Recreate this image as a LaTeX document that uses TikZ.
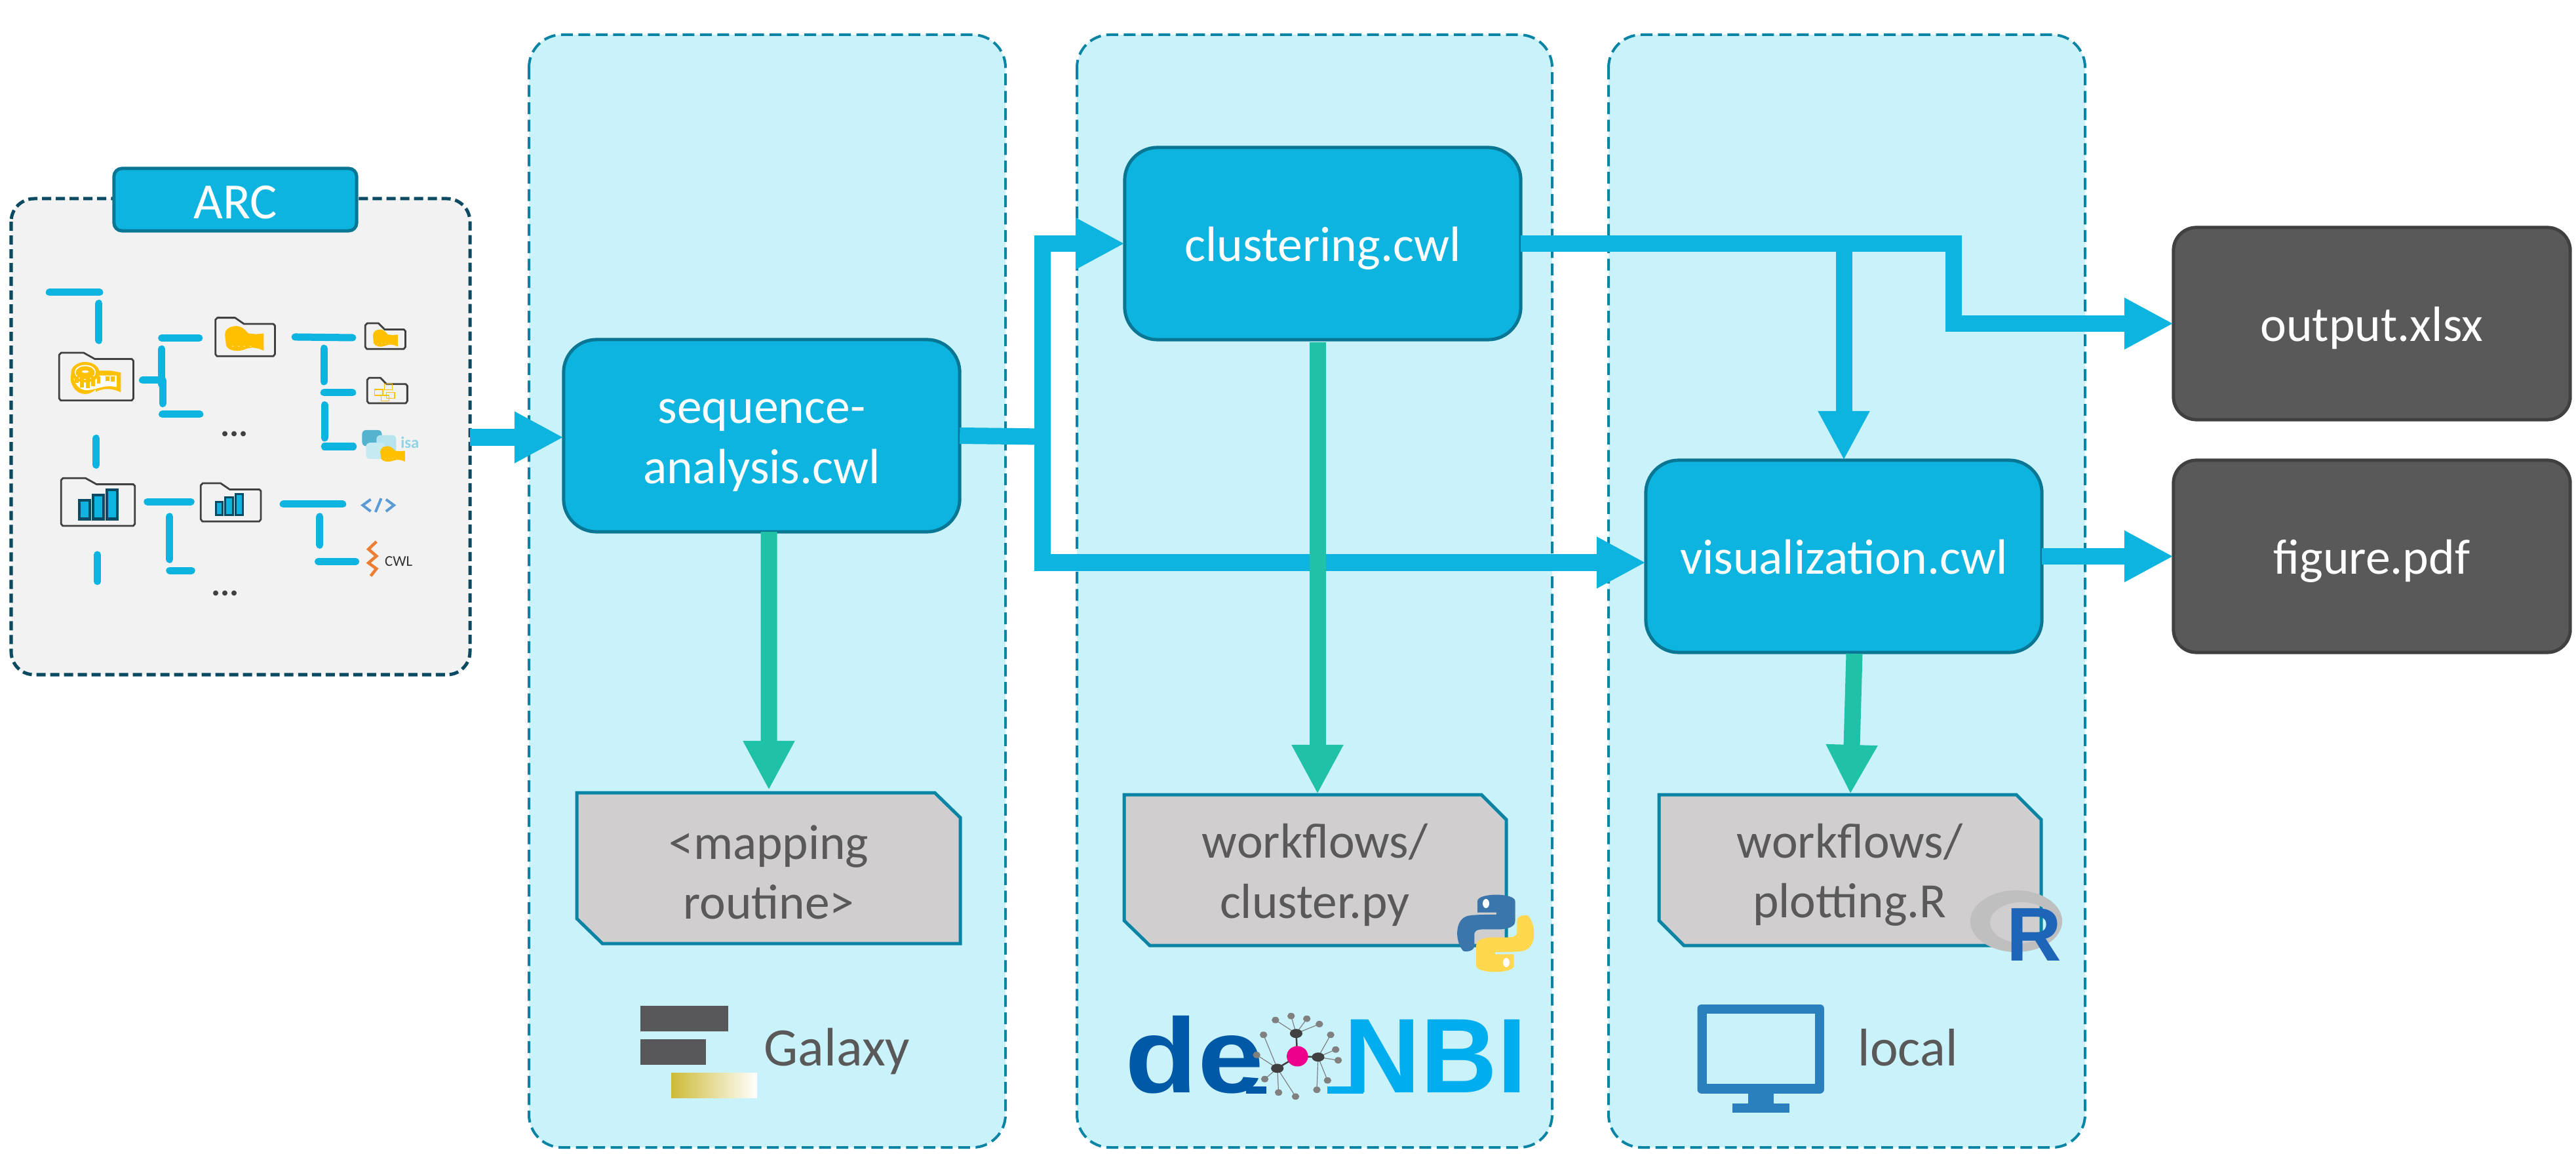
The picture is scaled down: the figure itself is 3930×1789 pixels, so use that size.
\documentclass[tikz,border=0pt]{standalone}
\usepackage{fontspec}
\setmainfont{Carlito}
\newfontfamily\logofont{Liberation Sans}
\usetikzlibrary{arrows.meta,shapes.misc}
\definecolor{panelfill}{HTML}{CAF2FB}
\definecolor{paneledge}{HTML}{0A84A5}
\definecolor{flowblue}{HTML}{0DB4E0}
\definecolor{greenflow}{HTML}{1FC2A7}
\definecolor{darkedge}{HTML}{0B4A60}
\definecolor{docfill}{HTML}{D0CECE}
\definecolor{txtgrey}{HTML}{595959}
\definecolor{tape}{HTML}{FFC000}
\definecolor{folderline}{HTML}{404040}
\definecolor{monitor}{HTML}{2A7FBF}
\definecolor{nbiblue}{HTML}{00AEEF}
\definecolor{deblue}{HTML}{0059A6}
\newcommand{\pxfont}[1]{\fontsize{#1}{26}\selectfont}
\tikzset{
 panel/.style={draw=paneledge,fill=panelfill,line width=0.04cm,rounded corners=0.5cm,dash pattern=on 0.18cm off 0.085cm},
 toolbox/.style={draw=paneledge!90!black,fill=flowblue,line width=0.05cm,rounded corners=0.5cm,text=white,minimum width=6.04cm,minimum height=2.93cm,align=center,font=\pxfont{21.5},inner sep=0pt,outer sep=0pt},
 oneline/.style={text height=0.75cm,text depth=0.22cm},
 outbox/.style={draw=black!75,fill=txtgrey,line width=0.05cm,rounded corners=0.35cm,text=white,minimum width=6.05cm,minimum height=2.93cm,align=center,font=\pxfont{21.5},inner sep=0pt,outer sep=0pt,oneline},
 docbox/.style={draw=paneledge,fill=docfill,line width=0.05cm},
 doctext/.style={text=txtgrey,align=center,font=\pxfont{21.4},inner sep=0pt},
 flow/.style={draw=flowblue,line width=0.25cm},
 flowarrow/.style={flow,-{Triangle[length=0.75cm,width=0.735cm]}},
 mapto/.style={draw=greenflow,line width=0.25cm,-{Triangle[length=0.75cm,width=0.735cm]}},
 treebar/.style={draw=flowblue,line width=0.11cm,line cap=round},
 folderpath/.style={draw=folderline,line width=0.028cm,line join=round},
 logotext/.style={text=txtgrey,inner sep=0pt,anchor=base west},
 logofontstyle/.style={font=\logofont\bfseries\fontsize{46}{50}\selectfont,inner sep=0pt,anchor=base west},
}
\newcommand{\folder}[4]{% x0 y0 x1 y1 in zoom coords
 \draw[folderpath] (#1,#2+8) -- (#1,#4-6) -- (#1+5,#4) -- (#3-5,#4) -- (#3,#4-6) -- (#3,#2+25) -- (#3-5,#2+20) -- ({#1+(#3-#1)*0.48},#2+20) -- ({#1+(#3-#1)*0.33},#2+2) -- (#1+6,#2+2) -- cycle;}
\newcommand{\tapefull}[4]{%
 \begin{scope}[shift={(#1,#2)},x=#3*0.004847cm,y=-#4*0.00523cm]
  \fill[tape] (.29,.5) ellipse (.29 and .5);
  \fill[tape] (.5,.27) -- (.8,.27) -- (1,.33) -- (1,.95) .. controls (.8,.8) and (.65,.82) .. (.5,.93) -- cycle;
  \fill[white] (.06,.5) .. controls (.1,.75) and (.2,.9) .. (.35,.88) .. controls (.55,.85) and (.7,.68) .. (.95,.8) -- (.95,.42) -- (.58,.42) .. controls (.5,.65) and (.15,.65) .. (.06,.5) -- cycle;
  \fill[tape] (.29,.32) ellipse (.28 and .32);
  \fill[white] (.29,.32) ellipse (.21 and .23);
  \fill[tape] (.29,.33) ellipse (.19 and .2);
  \fill[white] (.29,.3) ellipse (.07 and .04);
  \foreach \a/\b in {.08/.66,.19/.8,.3/.82,.41/.75,.52/.68,.7/.6,.8/.62}{\fill[tape] (\a,.45) rectangle (\a+.075,\b);}
  \fill[tape] (.92,.35) rectangle (.96,.8);
 \end{scope}}
\newcommand{\tapesolid}[4]{%
 \begin{scope}[shift={(#1,#2)},x=#3*0.004847cm,y=-#4*0.00523cm]
  \fill[tape] (0,.35) .. controls (0,.1) and (.15,0) .. (.3,0) .. controls (.42,0) and (.52,.15) .. (.6,.3) -- (.8,.33) -- (1,.3) -- (1,1) .. controls (.8,.85) and (.65,.85) .. (.5,.95) .. controls (.35,1.05) and (.1,1.02) .. (.03,.8) -- cycle;
  \foreach \a in {.2,.36,.5,.66}{\fill[white] (\a,.82) circle (.018);}
 \end{scope}}
\newcommand{\pysnake}[1]{%
 \fill[#1] (-29,-70) -- (-29,-120) .. controls (-29,-152) and (31,-152) .. (31,-120) -- (31,-45) .. controls (31,-25) and (20,-17) .. (8,-15) -- (-20,-15) .. controls (-32,-15) and (-34,-5) .. (-34,5) -- (-34,50) .. controls (-36,68) and (-48,70) .. (-52,65) .. controls (-65,30) and (-65,-45) .. (-48,-62) .. controls (-44,-68) and (-30,-70) .. (1,-70) -- (1,-78) -- (-29,-78) -- cycle;}
\begin{document}
\begin{tikzpicture}[x=0.01cm,y=-0.01cm]
\useasboundingbox (0,0) rectangle (3930,1789);
% panels
\path[panel] (807,53) rectangle (1534,1750);
\path[panel] (1643,53) rectangle (2368,1750);
\path[panel] (2454,53) rectangle (3181,1750);
% ARC container
\path[draw=darkedge,fill=black!5,line width=0.05cm,rounded corners=0.35cm,dash pattern=on 0.14cm off 0.07cm] (17,303) rectangle (717,1029);
\node[draw=paneledge!90!black,fill=flowblue,line width=0.05cm,rounded corners=0.12cm,minimum width=3.7cm,minimum height=0.95cm,text=white,font=\pxfont{22},inner sep=0pt,outer sep=0pt,text height=0.58cm,text depth=0pt] (arc) at (359,304.5) {ARC};
% ARC tree, in the coordinates of the enlarged crop
\begin{scope}[yshift=-2.3cm,x=0.004847cm,y=-0.00523cm]
 \foreach \a/\b/\c/\d in {155/412/313/412,311/444/311/552,508/545/626/545,508/577/508/680,448/668/510/668,511/668/511/736,510/767/628/767,927/542/1108/544,1018/575/1018/672,1018/704/1108/704,1020/740/1020/836,1020/861/1110/861,302/837/302/915,463/1022/600/1022,533/1065/533/1190,533/1222/602/1222,890/1029/1077/1029,1005/1065/1005/1148,1000/1196/1118/1196,306/1176/306/1254}
  {\draw[treebar] (\a,\b) -- (\c,\d);}
 \folder{186}{586}{419}{727}
 \folder{677}{484}{864}{598}
 \folder{1148}{500}{1274}{577}
 \folder{1154}{659}{1280}{735}
 \folder{192}{951}{424}{1092}
 \folder{631}{966}{820}{1079}
 \tapefull{222}{615}{158}{93}
 \tapesolid{707}{510}{122}{72}
 \tapesolid{1172}{520}{78}{50}
 \foreach \a/\b/\c/\d in {1178/695/1203/712,1208/679/1233/696,1215/703/1240/720,1198/712/1223/728}{\draw[tape,line width=0.012cm] (\a,\b) rectangle (\c,\d);}
 \foreach \a/\b/\c/\d/\e in {246/1013/287/1076/8,289/998/330/1076/8,332/983/373/1076/8,675/1020/702/1064/6,704/1006/736/1064/6,737/996/767/1064/6}
  {\fill[darkedge] (\a,\b) rectangle (\c,\d); \fill[flowblue] (\a+\e,\b+\e) rectangle (\c-\e,\d-\e);}
 % isa
 \fill[rounded corners=0.06cm,fill={rgb,255:red,85;green,179;blue,208}] (1138,813) rectangle (1200,860);
 \fill[rounded corners=0.06cm,fill={rgb,255:red,181;green,227;blue,238}] (1183,828) rectangle (1245,880);
 \fill[rounded corners=0.06cm,fill={rgb,255:red,197;green,234;blue,242}] (1150,850) rectangle (1210,897);
 \tapesolid{1195}{860}{78}{45}
 \node[text={rgb,255:red,143;green,211;blue,230},font=\pxfont{7},inner sep=0pt] (isa) at (1288,850) {\textbf{isa}};
 % code and cwl
 \draw[draw={rgb,255:red,91;green,155;blue,213},line width=0.04cm] (1165,1015) -- (1140,1032) -- (1165,1050) (1198,1012) -- (1180,1052) (1213,1015) -- (1238,1032) -- (1213,1050);
 \draw[draw={rgb,255:red,237;green,125;blue,49},line width=0.045cm] (1183,1138) -- (1158,1160) -- (1183,1180) -- (1158,1200) -- (1183,1217) -- (1165,1238);
 \node[text=black!80,font=\pxfont{6.5},inner sep=0pt] (cwl) at (1253,1195) {CWL};
 \node[text=folderline,font=\pxfont{15},inner sep=0pt] (dotsa) at (736,825) {\textbf{...}};
 \node[text=folderline,font=\pxfont{15},inner sep=0pt] (dotsb) at (707,1288) {\textbf{...}};
\end{scope}
% tool nodes
\node[toolbox] (seq) at (1162,664.5) {\rule{0pt}{0.66cm}sequence-\\analysis.cwl};
\node[toolbox,oneline] (clust) at (2018,371.5) {clustering.cwl};
\node[toolbox,oneline] (vis) at (2813,848.5) {visualization.cwl};
\node[outbox] (out) at (3618.5,493.5) {output.xlsx};
\node[outbox] (fig) at (3618.5,848.5) {figure.pdf};
% documents
\path[docbox] (880,1209) -- (1426,1209) -- (1465,1247) -- (1465,1439) -- (919,1439) -- (880,1401) -- cycle;
\path[docbox] (1715,1212) -- (2260,1212) -- (2298,1250) -- (2298,1442) -- (1754,1442) -- (1715,1404) -- cycle;
\path[docbox] (2531,1212) -- (3076,1212) -- (3114,1250) -- (3114,1442) -- (2569,1442) -- (2531,1404) -- cycle;
\node[doctext] (doca) at (1173,1324) {\rule{0pt}{0.64cm}<mapping\\routine>};
\node[doctext] (docb) at (2006,1327) {\rule{0pt}{0.67cm}workflows/\\cluster.py};
\node[doctext] (docc) at (2822,1327) {\rule{0pt}{0.67cm}workflows/\\plotting.R};
% connectors
\coordinate (arcout) at (717,667);
\coordinate (jn) at (1590,666);
\coordinate (kink) at (2980,493.5);
\coordinate (tipa) at (1173,1205);
\coordinate (tipb) at (2010,1211);
\coordinate (tailb) at (2010,522);
\coordinate (tipc) at (2823,1211);
\coordinate (tailc) at (2829,997);
\draw[flowarrow] (arcout) -- (seq.west |- arcout);
\draw[flow] (seq.east) -- (jn);
\draw[flowarrow] (jn) |- (clust.west);
\draw[flowarrow] (jn) |- ([yshift=-0.095cm]vis.west);
\draw[flowarrow] (clust.east) -| (vis.north);
\draw[flowarrow] (clust.east) -| (kink) -- (out.west);
\draw[flowarrow] (vis.east) -- (fig.west);
\draw[mapto] ([xshift=0.11cm]seq.south) -- (tipa);
\draw[mapto] (tailb) -- (tipb);
\draw[mapto] (tailc) -- (tipc);
% Galaxy
\fill[fill={rgb,255:red,88;green,88;blue,90}] (977,1534) rectangle (1111,1573);
\fill[fill={rgb,255:red,88;green,88;blue,90}] (977,1585) rectangle (1077,1624);
\shade[left color={rgb,255:red,205;green,187;blue,56},right color=white] (1024,1636) rectangle (1155,1674);
\node[logotext,font=\pxfont{23.5}] (galaxy) at (1165,1625) {Galaxy};
\node[logotext,font=\pxfont{23}] (local) at (2834,1625) {local};
% monitor
\begin{scope}[xshift=24cm,yshift=-11.5cm,x=0.005102cm,y=-0.004082cm]
 \fill[monitor,rounded corners=0.06cm] (369,932) rectangle (748,1264);
 \fill[panelfill] (398,967) rectangle (720,1228);
 \fill[monitor] (520,1264) rectangle (597,1300);
 \fill[monitor] (473,1300) rectangle (644,1335);
\end{scope}
% de.NBI
\node[logofontstyle,text=deblue,xscale=1.12,transform shape] (de) at (1716,1666) {de};
\node[logofontstyle,text=nbiblue] (nbi) at (2050,1666) {NBI};
\begin{scope}[xshift=9cm,yshift=-11.5cm,x=0.009569cm,y=-0.004082cm]
 \fill[deblue] (1045,1238) rectangle (1078,1265);
 \fill[nbiblue] (1175,1238) rectangle (1232,1265);
 \foreach \a/\b/\c/\d in {1125/1040/1092/990,1125/1040/1117/975,1125/1040/1142/985,1125/1040/1162/1005,1095/1170/1073/1045,1095/1170/1062/1120,1095/1170/1075/1210,1095/1170/1097/1260,1095/1170/1124/1275,1160/1128/1180/1045,1160/1128/1188/1100,1160/1128/1192/1140,1160/1128/1175/1215,1160/1128/1158/1250}
  {\draw[gray,line width=0.012cm] (\a,\b) -- (\c,\d); \fill[gray] (\c,\d) ellipse (6 and 12);}
 \draw[folderline,line width=0.025cm] (1125,1040) -- (1127,1125) -- (1160,1128) (1127,1125) -- (1095,1170);
 \foreach \a/\b in {1125/1040,1160/1128,1095/1170}{\fill[folderline] (\a,\b) ellipse (10 and 17);}
 \fill[fill={rgb,255:red,236;green,0;blue,140}] (1127,1125) ellipse (17 and 38);
\end{scope}
% python
\begin{scope}[shift={(2281.8,1423.5)},x=0.009569cm,y=0.004082cm,yscale=-1]
 \pysnake{fill={rgb,255:red,58;green,118;blue,171}}
\end{scope}
\begin{scope}[shift={(2281.8,1423.5)},x=-0.009569cm,y=-0.004082cm,yscale=-1]
 \pysnake{fill={rgb,255:red,255;green,216;blue,80}}
\end{scope}
\fill[white] (2267,1378) ellipse (0.05cm and 0.07cm);
\fill[white] (2298,1468) ellipse (0.05cm and 0.07cm);
% R
\path[fill=gray!50,even odd rule] (3076,1405) ellipse (0.7cm and 0.47cm) (3084,1407) ellipse (0.48cm and 0.31cm);
\node[font=\logofont\bfseries\fontsize{33}{35}\selectfont,text={rgb,255:red,31;green,101;blue,183},inner sep=0pt,anchor=base west] (rlogo) at (3061,1465) {R};
\end{tikzpicture}
\end{document}
